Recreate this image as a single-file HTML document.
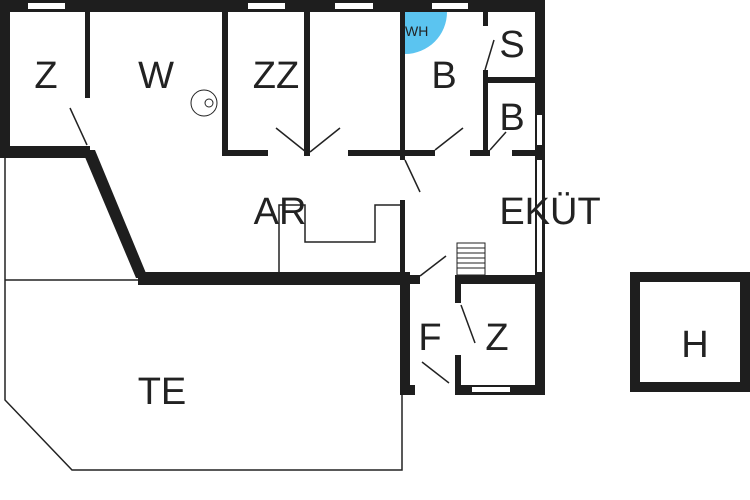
<!DOCTYPE html>
<html><head><style>body{margin:0;background:#fff}svg{display:block}text{font-family:"Liberation Sans",sans-serif;fill:#222}</style></head><body>
<svg width="750" height="500" viewBox="0 0 750 500">
<rect width="750" height="500" fill="#fff"/>
<path d="M405,12 L447,12 A42,42 0 0 1 405,54 Z" fill="#5bc4f0"/>
<g fill="#1e1e1e">
<rect x="0" y="0" width="545" height="12"/>
<rect x="0" y="0" width="10" height="158"/>
<rect x="0" y="146" width="90" height="12"/>
<rect x="85" y="12" width="5" height="86"/>
<polygon points="82,150 95,150 148,278 136,278"/>
<rect x="138" y="272" width="272" height="13"/>
<rect x="222" y="12" width="6" height="144"/>
<rect x="222" y="150" width="46" height="6"/>
<rect x="304" y="12" width="6" height="144"/>
<rect x="348" y="150" width="57" height="6"/>
<rect x="400" y="12" width="5" height="148"/>
<rect x="400" y="200" width="5" height="85"/>
<rect x="400" y="150" width="35" height="6"/>
<rect x="470" y="150" width="20" height="6"/>
<rect x="512" y="150" width="33" height="6"/>
<rect x="483" y="12" width="5" height="14"/>
<rect x="483" y="70" width="5" height="86"/>
<rect x="487" y="77" width="50" height="6"/>
<rect x="535" y="0" width="10" height="395"/>
<rect x="400" y="275" width="20" height="9"/>
<rect x="455" y="275" width="90" height="9"/>
<rect x="400" y="283" width="10" height="112"/>
<rect x="455" y="283" width="6" height="20"/>
<rect x="455" y="355" width="6" height="40"/>
<rect x="400" y="385" width="15" height="10"/>
<rect x="455" y="385" width="90" height="10"/>
<rect x="630" y="272" width="120" height="10"/>
<rect x="630" y="382" width="120" height="10"/>
<rect x="630" y="272" width="10" height="120"/>
<rect x="740" y="272" width="10" height="120"/>
</g>
<g fill="#fff">
<rect x="28" y="3" width="37" height="6"/><rect x="248" y="3" width="37" height="6"/>
<rect x="335" y="3" width="38" height="6"/><rect x="432" y="3" width="36" height="6"/>
<rect x="537" y="115" width="5" height="30"/><rect x="537" y="160" width="5" height="112"/>
<rect x="472" y="387" width="38" height="5"/>
</g>
<g stroke="#222" fill="none" stroke-width="1.5">
<polyline points="5,158 5,400 72,470 402,470 402,395"/>
<line x1="5" y1="280" x2="138" y2="280"/>
<polyline points="279,272 279,205 305,205 305,242 375,242 375,205 400,205"/>
<line x1="70" y1="108" x2="87" y2="145"/>
<line x1="276" y1="128" x2="306" y2="152"/><line x1="340" y1="128" x2="310" y2="152"/>
<line x1="435" y1="150" x2="463" y2="128"/><line x1="490" y1="150" x2="506" y2="132"/>
<line x1="485" y1="70" x2="494" y2="40"/>
<line x1="405" y1="160" x2="420" y2="192"/><line x1="420" y1="276" x2="446" y2="256"/>
<line x1="461" y1="305" x2="475" y2="343"/><line x1="422" y1="362" x2="449" y2="383"/>
<circle cx="204" cy="103" r="13" stroke-width="1"/><circle cx="209" cy="103" r="4" stroke-width="1"/>
<rect x="457" y="243" width="28" height="32" stroke-width="1"/>
</g>
<g stroke="#222" stroke-width="1">
<line x1="457" y1="248" x2="485" y2="248"/><line x1="457" y1="253" x2="485" y2="253"/>
<line x1="457" y1="258" x2="485" y2="258"/><line x1="457" y1="263" x2="485" y2="263"/>
<line x1="457" y1="268" x2="485" y2="268"/>
</g>
<g font-size="38" text-anchor="middle">
<text x="46" y="88">Z</text><text x="156" y="88">W</text><text x="276" y="88">ZZ</text>
<text x="444" y="88">B</text><text x="512" y="57">S</text><text x="512" y="130">B</text>
<text x="280" y="224">AR</text><text x="550" y="224">EKÜT</text>
<text x="430" y="350">F</text><text x="497" y="350">Z</text>
<text x="162" y="404">TE</text><text x="695" y="357">H</text>
</g>
<text x="405" y="36" font-size="14">WH</text>
</svg>
</body></html>
